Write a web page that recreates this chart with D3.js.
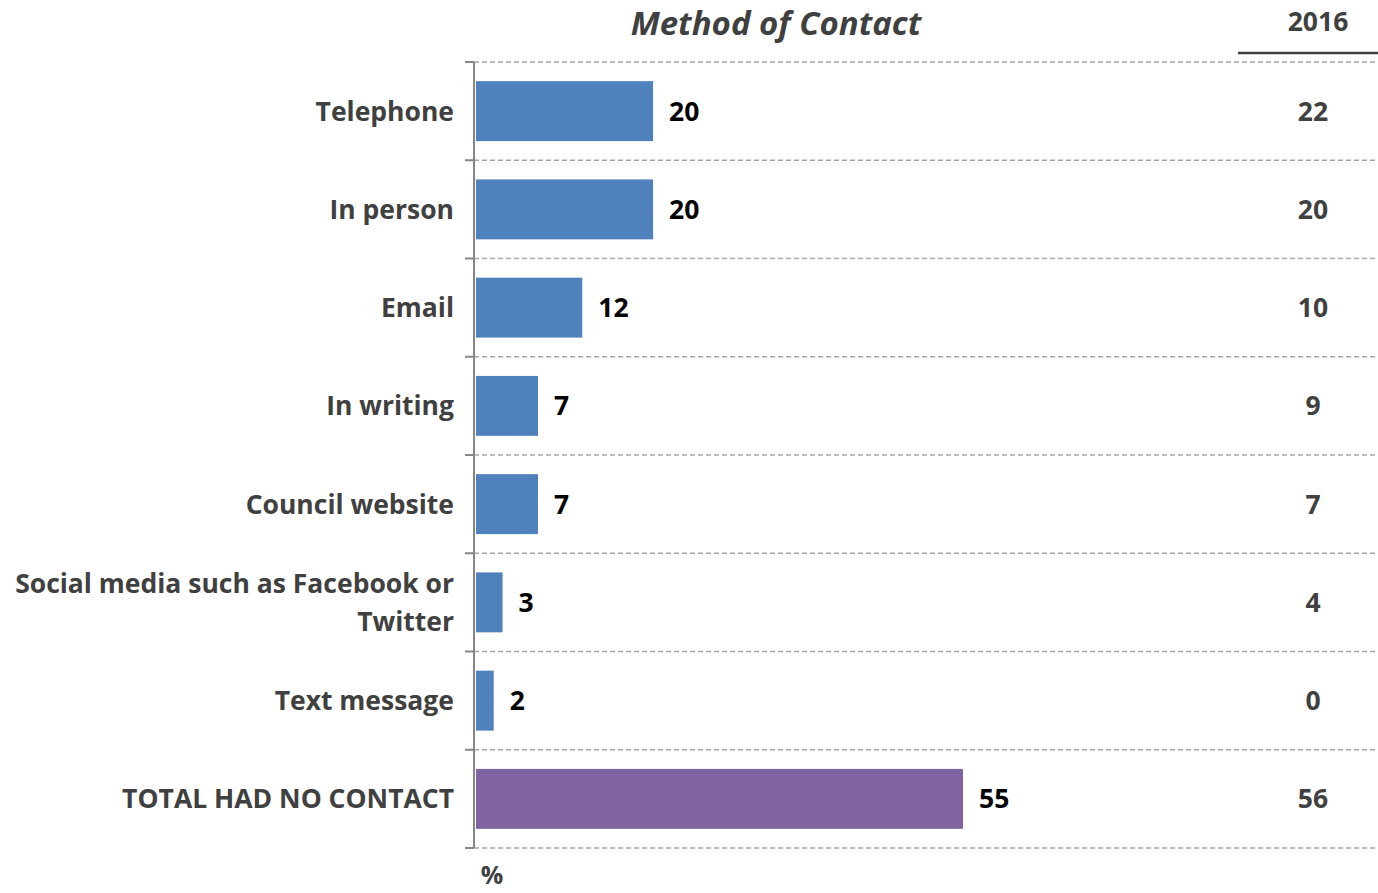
<!DOCTYPE html>
<html>
<head>
<meta charset="utf-8">
<script src="https://cdn.jsdelivr.net/npm/d3@7"></script>
<style>
  html, body { margin: 0; padding: 0; background: #fff; }
  svg { display: block; font-family: "Open Sans", "Noto Sans", sans-serif; }
</style>
</head>
<body>
<svg id="chart" width="1378" height="893"></svg>
<script>
// Method of contact, current year (%) with 2016 comparison column
const categories = [
  ["Telephone"],
  ["In person"],
  ["Email"],
  ["In writing"],
  ["Council website"],
  ["Social media such as Facebook or", "Twitter"],
  ["Text message"],
  ["TOTAL HAD NO CONTACT"]
];
const values2019 = [20, 20, 12, 7, 7, 3, 2, 55];
const values2016 = [22, 20, 10, 9, 7, 4, 0, 56];
const barColors = ["#4f81bd", "#4f81bd", "#4f81bd", "#4f81bd", "#4f81bd", "#4f81bd", "#4f81bd", "#8064a2"];

const svg = d3.select("#chart");
const axisX = 474;
const plotTop = 62, plotBottom = 848;
const textColor = "#404040";
const fs = 26.5;

const idx = d3.range(categories.length);
const y = d3.scaleBand().domain(idx).range([plotTop, plotBottom]).paddingInner(0.39).paddingOuter(0.195);
const x = d3.scaleLinear().domain([0, 55]).range([axisX + 2, 963]);

// row boundaries (dashed gridlines)
const step = (plotBottom - plotTop) / categories.length;
const bounds = d3.range(categories.length + 1).map(i => plotTop + i * step);

svg.append("g").selectAll("line").data(bounds).join("line")
  .attr("x1", axisX).attr("x2", 1378)
  .attr("y1", d => d).attr("y2", d => d)
  .attr("stroke", "#a6a6a6").attr("stroke-width", 1.3)
  .attr("stroke-dasharray", "5,3");

// axis line + tick marks
svg.append("line")
  .attr("x1", axisX).attr("x2", axisX).attr("y1", plotTop).attr("y2", plotBottom)
  .attr("stroke", "#868686").attr("stroke-width", 2);
svg.append("g").selectAll("line").data(bounds).join("line")
  .attr("x1", axisX - 9).attr("x2", axisX)
  .attr("y1", d => d).attr("y2", d => d)
  .attr("stroke", "#868686").attr("stroke-width", 2);

// bars
svg.append("g").selectAll("rect").data(idx).join("rect")
  .attr("x", x(0))
  .attr("y", i => y(i))
  .attr("width", i => x(values2019[i]) - x(0))
  .attr("height", y.bandwidth())
  .attr("fill", i => barColors[i]);

// value labels
svg.append("g").selectAll("text").data(idx).join("text")
  .attr("x", i => x(values2019[i]) + 16)
  .attr("y", i => y(i) + y.bandwidth() / 2)
  .attr("dy", "0.36em")
  .attr("font-size", fs).attr("font-weight", 700).attr("fill", "#000")
  .text(i => values2019[i]);

// category labels
const catG = svg.append("g").selectAll("text").data(idx).join("text")
  .attr("x", 454)
  .attr("y", i => y(i) + y.bandwidth() / 2)
  .attr("text-anchor", "end")
  .attr("font-size", fs).attr("font-weight", 700).attr("fill", textColor);
catG.each(function(i) {
  const lines = categories[i];
  const n = lines.length;
  d3.select(this).selectAll("tspan").data(lines).join("tspan")
    .attr("x", 454)
    .attr("dy", (d, k) => k === 0 ? `${0.36 - (n - 1) * 0.72}em` : "1.44em")
    .text(d => d);
});

// 2016 column
svg.append("g").selectAll("text").data(idx).join("text")
  .attr("x", 1313)
  .attr("y", i => y(i) + y.bandwidth() / 2)
  .attr("dy", "0.36em")
  .attr("text-anchor", "middle")
  .attr("font-size", fs).attr("font-weight", 700).attr("fill", textColor)
  .text(i => values2016[i]);

svg.append("text")
  .attr("x", 1318).attr("y", 31)
  .attr("text-anchor", "middle")
  .attr("font-size", fs).attr("font-weight", 700).attr("fill", textColor)
  .text("2016");
svg.append("line")
  .attr("x1", 1238).attr("x2", 1378).attr("y1", 53).attr("y2", 53)
  .attr("stroke", textColor).attr("stroke-width", 2.5);

// title
svg.append("text")
  .attr("x", 776).attr("y", 35)
  .attr("text-anchor", "middle")
  .attr("font-size", 33).attr("font-weight", 700).attr("font-style", "italic")
  .attr("fill", textColor)
  .text("Method of Contact");

// unit label
svg.append("text")
  .attr("x", 492).attr("y", 884)
  .attr("text-anchor", "middle")
  .attr("font-size", 25).attr("font-weight", 700).attr("fill", textColor)
  .text("%");
</script>
</body>
</html>
